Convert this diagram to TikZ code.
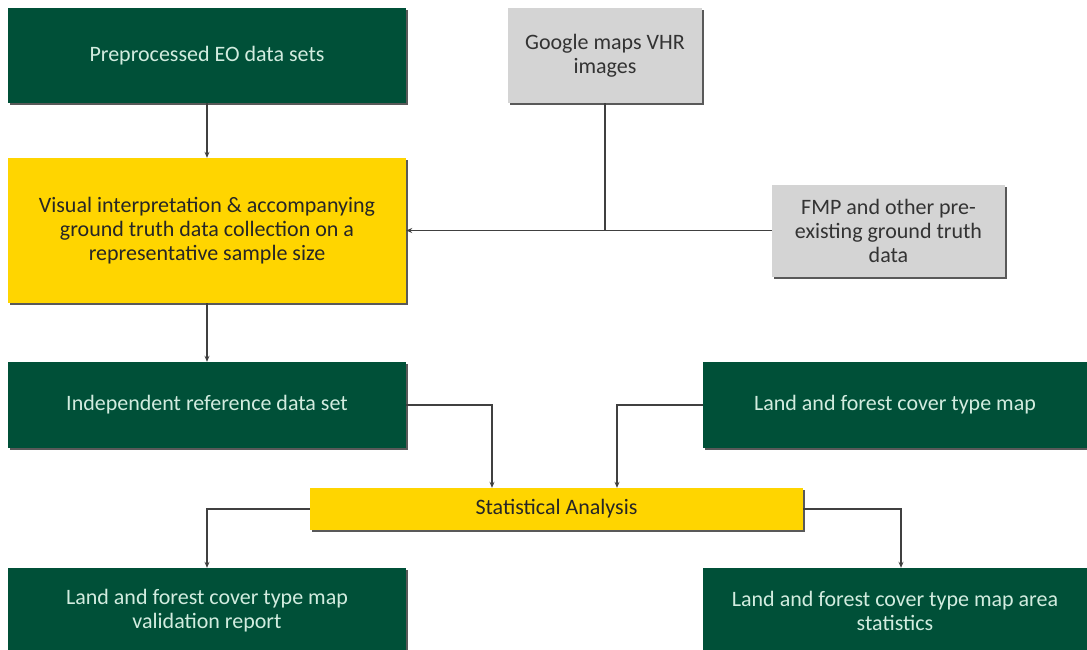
\documentclass[tikz,border=0pt]{standalone}
\usepackage{fontspec}
\setmainfont{Carlito}
\usetikzlibrary{arrows.meta,shadows}
\definecolor{eogreen}{HTML}{005038}
\definecolor{eoyellow}{HTML}{FFD500}
\definecolor{eogrey}{HTML}{D4D4D4}
\definecolor{eotext}{HTML}{D2ECDF}
\tikzset{
  box/.style={draw=none, align=center, inner sep=4pt,
    font=\fontsize{22}{24}\selectfont,
    drop shadow={shadow xshift=2pt, shadow yshift=-2pt, fill=black!65, opacity=1}},
  greenbox/.style={box, fill=eogreen, text=eotext},
  yellowbox/.style={box, fill=eoyellow, text=black!85},
  greybox/.style={box, fill=eogrey, text=black!80},
  link/.style={draw=black!75, line width=1.8pt},
  arrow/.style={link, -{Stealth[length=6pt,width=5pt]}}
}
\begin{document}
\begin{tikzpicture}[x=1pt, y=-1pt]
  \useasboundingbox (0,0) rectangle (1087,649);
  \node[greenbox, minimum width=398, minimum height=95] (eo) at (207,55.5) {Preprocessed EO data sets};
  \node[greybox, minimum width=194, minimum height=95] (google) at (605,55.5) {Google maps VHR\\images};
  \node[yellowbox, minimum width=398, minimum height=145] (visual) at (207,230.5)
    {Visual interpretation \& accompanying\\ground truth data collection on a\\representative sample size};
  \node[greybox, minimum width=233, minimum height=92] (fmp) at (888.5,230.5)
    {FMP and other pre-\\existing ground truth\\data};
  \node[greenbox, minimum width=398, minimum height=86] (indep) at (207,405) {Independent\ reference data set};
  \node[greenbox, minimum width=384, minimum height=86] (landmap) at (895,405) {Land and forest cover type map};
  \node[yellowbox, minimum width=493, minimum height=42] (stat) at (556.5,509) {Statistical Analysis};
  \node[greenbox, minimum width=398, minimum height=86] (valid) at (207,611)
    {Land and forest cover type map\\validation report};
  \node[greenbox, minimum width=384, minimum height=86] (area) at (895,611)
    {Land and forest cover type map area\\statistics};
  \begin{scope}
    \draw[arrow] (eo) -- (visual);
    \draw[link] (google) -- (google |- fmp.west);
    \draw[arrow] (fmp.west) -- (fmp.west -| visual.east);
    \draw[arrow] (visual) -- (indep);
    \draw[arrow] (indep.east) -| ([xshift=-64.5pt]stat.north);
    \draw[arrow] (landmap.west) -| ([xshift=60.5pt]stat.north);
    \draw[arrow] (stat.west) -| (valid.north);
    \draw[arrow] (stat.east) -| ([xshift=6pt]area.north);
  \end{scope}
\end{tikzpicture}
\end{document}
